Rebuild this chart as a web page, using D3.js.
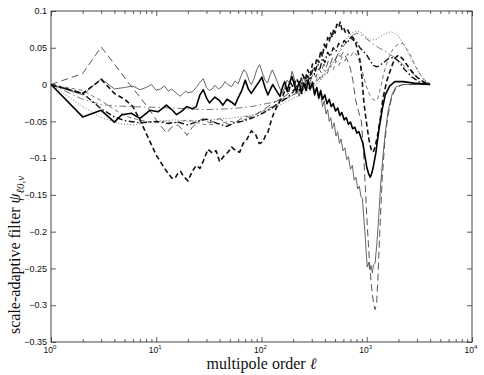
<!DOCTYPE html>
<html>
<head>
<meta charset="utf-8">
<script src="https://cdn.jsdelivr.net/npm/d3@7"></script>
<style>
body { margin: 0; background: #fff; }
svg { display: block; }
</style>
</head>
<body>
<div id="chart"></div>
<script>
// ---- data: [multipole l, filter value] ----
var thinSolid = [[1,0],[2,-0.014],[3,0.008],[4,-0.006],[5,-0.004],[6,-0.002],[7,-0.007],[8,-0.004],[9,0.0],[10,-0.008],[11,-0.006],[12,-0.002],[13,-0.009],[14,-0.006],[15,-0.01],[16,-0.013],[17,-0.016],[18,-0.012],[19,-0.009],[20,-0.011],[22,-0.01],[24,-0.004],[26,0.003],[28,0.008],[30,-0.004],[32,-0.008],[34,-0.006],[36,-0.001],[39,-0.006],[42,-0.003],[45,0.004],[48,0.0],[52,-0.003],[56,0.005],[60,0.001],[64,0.012],[68,0.02],[72,0.016],[76,0.006],[80,0.0],[85,0.008],[90,0.02],[96,0.027],[102,0.016],[108,0.006],[114,0.002],[120,0.012],[127,0.02],[134,0.012],[142,0.003],[150,-0.006],[158,-0.012],[166,-0.004],[175,0.006],[185,0.002],[195,0.018],[205,0.008],[215,-0.006],[228,-0.016],[240,-0.002],[252,0.012],[265,0.0],[278,0.008],[290,-0.008],[305,0.004],[320,-0.012],[335,-0.004],[350,-0.02],[365,-0.012],[380,-0.03],[395,-0.022],[410,-0.04],[425,-0.034],[440,-0.05],[455,-0.045],[470,-0.06],[490,-0.052],[510,-0.07],[530,-0.064],[550,-0.08],[570,-0.074],[595,-0.09],[620,-0.086],[645,-0.102],[670,-0.098],[700,-0.115],[730,-0.11],[760,-0.13],[790,-0.126],[820,-0.142],[850,-0.138],[880,-0.152],[910,-0.155],[935,-0.18],[960,-0.2],[985,-0.225],[1010,-0.248],[1040,-0.242],[1070,-0.252],[1100,-0.246],[1130,-0.256],[1160,-0.245],[1200,-0.243],[1250,-0.215],[1300,-0.18],[1350,-0.14],[1420,-0.1],[1500,-0.065],[1600,-0.035],[1750,-0.012],[1900,-0.003],[2200,0.0],[3000,0.0],[4000,0.0]];

var thickSolid = [[1,0],[2,-0.044],[3,-0.035],[4,-0.051],[4.7,-0.041],[5.8,-0.039],[7,-0.046],[8.7,-0.035],[10.4,-0.037],[12.5,-0.028],[14,-0.034],[15.6,-0.041],[17.5,-0.036],[19.5,-0.03],[22,-0.033],[24,-0.03],[26,-0.014],[28,-0.007],[30,-0.018],[32,-0.025],[36,-0.017],[40,-0.022],[43,-0.028],[47,-0.02],[52,-0.024],[56,-0.028],[60,-0.018],[65,-0.008],[70,0.006],[75,-0.006],[80,-0.012],[88,-0.003],[95,0.004],[101,0.01],[108,-0.004],[115,-0.014],[122,-0.006],[128,0.0],[138,-0.008],[150,-0.016],[158,-0.004],[166,0.004],[175,-0.008],[185,0.002],[195,0.011],[205,0.0],[215,-0.01],[228,0.004],[240,-0.012],[252,0.002],[265,-0.008],[278,0.006],[290,-0.006],[305,0.002],[320,-0.014],[335,-0.004],[350,-0.018],[365,-0.008],[380,-0.02],[400,-0.014],[420,-0.026],[440,-0.02],[460,-0.03],[480,-0.026],[505,-0.036],[530,-0.032],[555,-0.042],[580,-0.038],[610,-0.048],[640,-0.045],[670,-0.054],[700,-0.051],[735,-0.06],[770,-0.058],[805,-0.066],[840,-0.064],[880,-0.072],[920,-0.08],[960,-0.097],[1000,-0.112],[1040,-0.121],[1080,-0.126],[1120,-0.12],[1160,-0.11],[1220,-0.093],[1300,-0.063],[1400,-0.034],[1500,-0.014],[1650,-0.002],[1850,0.004],[2200,0.004],[2800,0.002],[4000,0.0]];

var boldDashed = [[1,0],[2,-0.012],[3,0.007],[4,-0.012],[5,-0.02],[6,-0.03],[7,-0.048],[8,-0.066],[10,-0.096],[12,-0.114],[14,-0.127],[15,-0.128],[16,-0.121],[17,-0.118],[18,-0.124],[20,-0.131],[22,-0.118],[24,-0.11],[26,-0.114],[28,-0.104],[31,-0.088],[34,-0.093],[37,-0.09],[40,-0.105],[44,-0.097],[48,-0.092],[52,-0.085],[57,-0.09],[62,-0.092],[67,-0.08],[73,-0.074],[80,-0.063],[88,-0.068],[95,-0.08],[103,-0.078],[110,-0.068],[115,-0.065],[122,-0.052],[130,-0.04],[140,-0.03],[150,-0.022],[160,-0.015],[170,-0.005],[180,-0.012],[190,0.002],[200,-0.004],[215,0.008],[230,0.0],[245,0.014],[260,0.006],[275,0.02],[290,0.012],[305,0.028],[320,0.02],[335,0.036],[350,0.03],[365,0.046],[380,0.038],[395,0.055],[410,0.048],[425,0.064],[440,0.058],[455,0.07],[470,0.064],[485,0.076],[500,0.07],[520,0.082],[540,0.078],[560,0.085],[580,0.075],[600,0.078],[630,0.07],[660,0.074],[700,0.066],[740,0.064],[780,0.058],[820,0.046],[860,0.034],[900,0.01],[940,-0.025],[990,-0.05],[1050,-0.075],[1100,-0.088],[1150,-0.092],[1200,-0.085],[1270,-0.068],[1350,-0.045],[1420,-0.02],[1550,0.005],[1700,0.022],[1850,0.036],[2000,0.04],[2200,0.035],[2600,0.02],[3000,0.01],[3500,0.003],[4000,0.0]];

var thinLongDashed = [[1,0],[2,0.015],[3,0.051],[4.2,0.024],[5.6,0.0],[7,-0.017],[8.7,-0.035],[10,-0.048],[11,-0.056],[12.6,-0.066],[14,-0.058],[16,-0.055],[18,-0.062],[19.6,-0.069],[22,-0.058],[25,-0.05],[28,-0.046],[32,-0.052],[36,-0.05],[40,-0.046],[45,-0.052],[50,-0.055],[56,-0.052],[63,-0.047],[70,-0.043],[80,-0.045],[90,-0.04],[100,-0.036],[115,-0.03],[130,-0.025],[150,-0.02],[170,-0.015],[190,-0.01],[210,-0.005],[230,0.004],[250,-0.002],[270,0.01],[290,0.004],[310,0.016],[330,0.01],[350,0.022],[370,0.016],[390,0.028],[410,0.022],[430,0.032],[450,0.027],[475,0.037],[500,0.032],[530,0.042],[560,0.038],[600,0.044],[640,0.036],[690,0.025],[740,0.005],[780,-0.02],[830,-0.035],[890,-0.05],[930,-0.09],[970,-0.14],[1010,-0.19],[1060,-0.24],[1110,-0.275],[1160,-0.298],[1200,-0.306],[1240,-0.298],[1280,-0.26],[1330,-0.2],[1400,-0.13],[1480,-0.08],[1580,-0.045],[1720,-0.018],[1900,-0.004],[2200,0.0],[3000,0.0],[4000,0.0]];

var thinDashDot = [[1,0],[2,-0.02],[3,-0.027],[4,-0.029],[6,-0.03],[10,-0.031],[15,-0.032],[20,-0.033],[30,-0.034],[50,-0.033],[80,-0.03],[120,-0.025],[180,-0.017],[250,-0.008],[320,0.002],[400,0.015],[480,0.03],[560,0.045],[640,0.058],[720,0.066],[800,0.07],[900,0.067],[1000,0.062],[1150,0.055],[1300,0.05],[1500,0.045],[1700,0.04],[2000,0.033],[2400,0.022],[2900,0.012],[3400,0.005],[4000,0.001]];

var dotted = [[1,0],[2,-0.03],[3,-0.045],[4.5,-0.053],[6,-0.055],[8,-0.052],[10,-0.05],[15,-0.048],[20,-0.05],[30,-0.048],[50,-0.046],[80,-0.042],[120,-0.034],[180,-0.022],[250,-0.012],[320,-0.002],[400,0.012],[480,0.03],[560,0.048],[640,0.062],[720,0.07],[800,0.073],[900,0.07],[1000,0.064],[1100,0.06],[1250,0.062],[1450,0.068],[1700,0.072],[1950,0.068],[2300,0.052],[2700,0.032],[3200,0.014],[3700,0.004],[4000,0.001]];

var boldDashDot = [[1,0],[2,-0.012],[3,-0.033],[4,-0.044],[5,-0.049],[7,-0.052],[10,-0.05],[13,-0.053],[16,-0.051],[20,-0.055],[25,-0.05],[30,-0.047],[35,-0.051],[40,-0.054],[47,-0.057],[55,-0.052],[65,-0.05],[80,-0.046],[100,-0.04],[125,-0.032],[150,-0.024],[175,-0.018],[200,-0.01],[215,-0.002],[230,-0.008],[245,0.004],[260,-0.002],[275,0.012],[290,0.006],[305,0.02],[320,0.014],[340,0.028],[360,0.022],[380,0.036],[400,0.03],[425,0.044],[450,0.038],[480,0.05],[510,0.045],[540,0.056],[575,0.052],[610,0.06],[650,0.056],[700,0.064],[750,0.06],[800,0.058],[860,0.05],[920,0.046],[1000,0.04],[1080,0.032],[1160,0.026],[1240,0.024],[1320,0.026],[1450,0.03],[1600,0.035],[1800,0.037],[2000,0.032],[2300,0.02],[2700,0.01],[3200,0.003],[4000,0.0]];

var grayDashed = [[1,0],[2,-0.008],[3,-0.022],[4,-0.034],[5,-0.042],[6,-0.046],[8,-0.05],[10,-0.052],[12,-0.05],[15,-0.052],[20,-0.048],[25,-0.052],[30,-0.055],[40,-0.053],[50,-0.05],[60,-0.052],[75,-0.045],[90,-0.04],[110,-0.034],[140,-0.027],[170,-0.02],[200,-0.014],[220,-0.008],[240,-0.012],[260,-0.002],[280,-0.006],[300,0.006],[320,0.0],[345,0.012],[370,0.006],[395,0.02],[420,0.014],[450,0.026],[480,0.02],[510,0.032],[545,0.026],[580,0.038],[620,0.032],[660,0.042],[700,0.038],[750,0.045],[800,0.04],[860,0.03],[920,0.015],[980,0.0],[1050,-0.012],[1120,-0.019],[1200,-0.022],[1270,-0.02],[1350,-0.005],[1450,0.015],[1600,0.035],[1800,0.05],[2000,0.055],[2200,0.056],[2500,0.045],[2900,0.025],[3400,0.008],[4000,0.001]];

var xTickVals = [1, 10, 100, 1000, 10000];
var xTickExp = ["0", "1", "2", "3", "4"];
var yTickVals = [0.1, 0.05, 0, -0.05, -0.1, -0.15, -0.2, -0.25, -0.3, -0.35];
var yTickLabels = ["0.1", "0.05", "0", "\u22120.05", "\u22120.1", "\u22120.15", "\u22120.2", "\u22120.25", "\u22120.3", "\u22120.35"];

// ---- styles (kept apart from the data) ----
var series = [
  {data: dotted,         color: "#8a8a8a", width: 1.0, dash: "1.2,1.8"},
  {data: thinDashDot,    color: "#666",    width: 0.9, dash: "7,3,1.5,3"},
  {data: grayDashed,     color: "#777",    width: 1.0, dash: "4,3"},
  {data: thinLongDashed, color: "#555",    width: 1.0, dash: "7,4"},
  {data: thinSolid,      color: "#555",    width: 0.9, dash: null},
  {data: boldDashDot,    color: "#111",    width: 1.4, dash: "6,2.5,1.5,2.5"},
  {data: boldDashed,     color: "#111",    width: 1.6, dash: "5,3"},
  {data: thickSolid,     color: "#000",    width: 1.6, dash: null}
];

var width = 484, height = 375;
var margin = {top: 11, right: 12, bottom: 33, left: 51};
var plotW = width - margin.left - margin.right,
    plotH = height - margin.top - margin.bottom;

var svg = d3.select("#chart")
  .append("svg")
  .attr("width", width)
  .attr("height", height);

var chartgroup = svg.append("g")
  .attr("transform", "translate(" + margin.left + "," + margin.top + ")");

var x = d3.scaleLog().domain([1, 10000]).range([0, plotW]);
var y = d3.scaleLinear().domain([-0.35, 0.1]).range([plotH, 0]);

// minor ticks 2..9 in each decade
var minorTicks = [];
for (var d = 1; d < 10000; d *= 10) {
  for (var k = 2; k < 10; k++) minorTicks.push(d * k);
}

var tickFont = "'Liberation Sans', Arial, Helvetica, sans-serif";

// ticks pointing inward, on all four sides
chartgroup.append("g")
  .attr("transform", "translate(0," + plotH + ")")
  .call(d3.axisBottom(x).tickValues(xTickVals).tickSize(-5).tickSizeOuter(0).tickFormat(""));
chartgroup.append("g")
  .attr("transform", "translate(0," + plotH + ")")
  .call(d3.axisBottom(x).tickValues(minorTicks).tickSize(-3).tickSizeOuter(0).tickFormat(""));
chartgroup.append("g")
  .call(d3.axisTop(x).tickValues(xTickVals).tickSize(-5).tickSizeOuter(0).tickFormat(""));
chartgroup.append("g")
  .call(d3.axisTop(x).tickValues(minorTicks).tickSize(-3).tickSizeOuter(0).tickFormat(""));
chartgroup.append("g")
  .call(d3.axisLeft(y).tickValues(yTickVals).tickSize(-5).tickSizeOuter(0).tickFormat(""));
chartgroup.append("g")
  .attr("transform", "translate(" + plotW + ",0)")
  .call(d3.axisRight(y).tickValues(yTickVals).tickSize(-5).tickSizeOuter(0).tickFormat(""));

chartgroup.selectAll(".domain").remove();
chartgroup.selectAll(".tick line").attr("stroke", "#333").attr("stroke-width", 0.8);

// y tick labels
chartgroup.append("g")
  .selectAll("text")
  .data(yTickVals)
  .enter()
  .append("text")
  .attr("x", -4)
  .attr("y", function(v) { return y(v) + 3.2; })
  .attr("text-anchor", "end")
  .style("font-family", tickFont)
  .style("font-size", "9px")
  .style("fill", "#111")
  .text(function(v, i) { return yTickLabels[i]; });

// x tick labels: 10 with superscript exponent
var xl = chartgroup.append("g")
  .selectAll("text")
  .data(xTickVals)
  .enter()
  .append("text")
  .attr("x", function(v) { return x(v) - 1; })
  .attr("y", plotH + 11)
  .attr("text-anchor", "middle")
  .style("font-family", tickFont)
  .style("font-size", "8.5px")
  .style("fill", "#111");
xl.append("tspan").text("10");
xl.append("tspan")
  .attr("dy", -4.5)
  .style("font-size", "6px")
  .text(function(v, i) { return xTickExp[i]; });

// curves
var line = d3.line()
  .x(function(d) { return x(d[0]); })
  .y(function(d) { return y(d[1]); });

chartgroup.append("g")
  .selectAll("path")
  .data(series)
  .enter()
  .append("path")
  .attr("d", function(s) { return line(s.data); })
  .attr("fill", "none")
  .attr("stroke", function(s) { return s.color; })
  .attr("stroke-width", function(s) { return s.width; })
  .attr("stroke-dasharray", function(s) { return s.dash; })
  .attr("stroke-linejoin", "round");

// frame
chartgroup.append("rect")
  .attr("width", plotW)
  .attr("height", plotH)
  .attr("fill", "none")
  .attr("stroke", "#333")
  .attr("stroke-width", 0.9);

// axis titles
var serif = "'Liberation Serif', 'Times New Roman', Times, serif";

var xt = svg.append("text")
  .attr("x", margin.left + plotW / 2)
  .attr("y", 369)
  .attr("text-anchor", "middle")
  .style("font-family", serif)
  .style("font-size", "16px")
  .style("fill", "#111");
xt.append("tspan").text("multipole order ");
xt.append("tspan").style("font-style", "italic").text("\u2113");

var yt = svg.append("text")
  .attr("transform", "translate(20," + 334 + ")rotate(-90)")
  .attr("text-anchor", "start")
  .style("font-family", serif)
  .style("font-size", "16px")
  .style("fill", "#111");
yt.append("tspan").text("scale-adaptive filter ");
yt.append("tspan").style("font-style", "italic").text("\u03c8");
yt.append("tspan")
  .attr("dy", 4)
  .style("font-style", "italic")
  .style("font-size", "11px")
  .text("\u21130,\u03bd");
</script>
</body>
</html>
